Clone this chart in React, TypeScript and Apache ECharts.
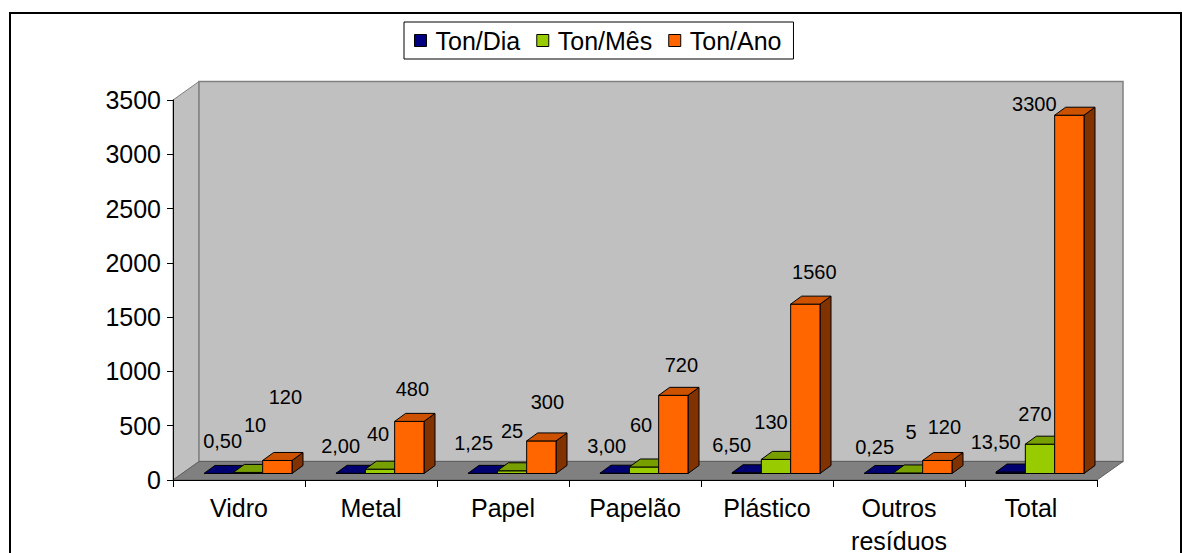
import React, { useEffect, useRef } from "react";
import * as echarts from "echarts";

// ---- data ----
const categories = ["Vidro", "Metal", "Papel", "Papelão", "Plástico", "Outros\nresíduos", "Total"];
const seriesNames = ["Ton/Dia", "Ton/Mês", "Ton/Ano"];
const tonDia = [0.5, 2, 1.25, 3, 6.5, 0.25, 13.5];
const tonMes = [10, 40, 25, 60, 130, 5, 270];
const tonAno = [120, 480, 300, 720, 1560, 120, 3300];
const yMin = 0;
const yMax = 3500;
const yInterval = 500;

// ---- label nudges (px, relative to the front-top centre of each bar) ----
const labelOffX = [
  [4, -10, -9, -8, -15, -4, -15],
  [7, -2, 0, -3, -5, 3, -5],
  [8, 3, 6, 8, 9, 7, -35],
];
const labelOffY = [
  [-32, -27, -30, -27, -28, -26, -30],
  [-47, -35, -40, -42, -37, -41, -30],
  [-63, -32, -39, -30, -32, -33, -11],
];

// ---- styles ----
const FONT = "'Liberation Sans', Arial, sans-serif";
const faceColors = [
  { front: "#000080", top: "#000070", side: "#00004D" },
  { front: "#99CC00", top: "#779F00", side: "#4C6600" },
  { front: "#FF6600", top: "#CC5200", side: "#803300" },
];
const WALL_DX = 26;
const WALL_DY = -18.5;
const BAR_FDX = 9;
const BAR_FDY = -6.5;
const BAR_DX = 11;
const BAR_DY = -8;

function fmt(si: number, v: number) {
  return si === 0 ? v.toFixed(2).replace(".", ",") : String(v);
}

export default function App() {
  const ref = useRef<HTMLDivElement>(null);
  useEffect(() => {
    if (!ref.current) return;
    const chart = echarts.init(ref.current, null, { renderer: "svg" });
    const allData = [tonDia, tonMes, tonAno];

    const barSeries = allData.map((arr, si) => ({
      type: "custom",
      name: seriesNames[si],
      z: 3,
      itemStyle: { color: faceColors[si].front, borderColor: "#000", borderWidth: 1 },
      data: arr.map((v, i) => [i, v]),
      renderItem: (params: any, api: any) => {
        const i = api.value(0);
        const v = api.value(1);
        const base = api.coord([i, 0]);
        const top = api.coord([i, v]);
        const band = api.size([1, 0])[0];
        const bw = band / 4.5;
        const x0 = base[0] - 1.5 * bw + si * bw + BAR_FDX;
        const yb = base[1] + BAR_FDY;
        const yt = top[1] + BAR_FDY;
        const c = faceColors[si];
        const st = (fill: string) => ({ fill, stroke: "#000", lineWidth: 1 });
        return {
          type: "group",
          children: [
            {
              type: "polygon",
              shape: { points: [[x0 + bw, yt], [x0 + bw + BAR_DX, yt + BAR_DY], [x0 + bw + BAR_DX, yb + BAR_DY], [x0 + bw, yb]] },
              style: st(c.side),
            },
            {
              type: "rect",
              shape: { x: x0, y: yt, width: bw, height: Math.max(yb - yt, 0) },
              style: st(c.front),
            },
            {
              type: "polygon",
              shape: { points: [[x0, yt], [x0 + bw, yt], [x0 + bw + BAR_DX, yt + BAR_DY], [x0 + BAR_DX, yt + BAR_DY]] },
              style: st(c.top),
            },
            {
              type: "text",
              style: {
                text: fmt(si, v),
                x: x0 + bw / 2 + labelOffX[si][i],
                y: yt + labelOffY[si][i],
                fill: "#000",
                font: `20px ${FONT}`,
                align: "center",
                verticalAlign: "middle",
              },
            },
          ],
        };
      },
    }));

    const wallSeries = {
      type: "custom",
      name: "walls",
      z: 1,
      silent: true,
      data: [[0, 0]],
      renderItem: (params: any, api: any) => {
        const cs = params.coordSys;
        const L = cs.x, T = cs.y, R = cs.x + cs.width, B = cs.y + cs.height;
        return {
          type: "group",
          children: [
            {
              type: "polygon",
              shape: { points: [[L, T], [L + WALL_DX, T + WALL_DY], [L + WALL_DX, B + WALL_DY], [L, B]] },
              style: { fill: "#C0C0C0", stroke: "#808080", lineWidth: 1 },
            },
            {
              type: "rect",
              shape: { x: L + WALL_DX, y: T + WALL_DY, width: cs.width, height: cs.height },
              style: { fill: "#C0C0C0", stroke: "#808080", lineWidth: 1.5 },
            },
            {
              type: "polygon",
              shape: { points: [[L, B], [L + WALL_DX, B + WALL_DY], [R + WALL_DX, B + WALL_DY], [R, B]] },
              style: { fill: "#808080", stroke: "#606060", lineWidth: 1 },
            },
          ],
        };
      },
    };

    chart.setOption({
      animation: false,
      backgroundColor: "#fff",
      textStyle: { fontFamily: FONT },
      graphic: [
        {
          type: "rect",
          silent: true,
          shape: { x: 10, y: 13, width: 1171, height: 600 },
          style: { fill: "none", stroke: "#000", lineWidth: 2 },
        },
      ],
      legend: {
        data: seriesNames,
        left: 404,
        top: 22,
        padding: [6, 12, 6, 10],
        itemGap: 16,
        itemWidth: 12,
        itemHeight: 12,
        icon: "rect",
        borderColor: "#000",
        borderWidth: 1,
        backgroundColor: "#fff",
        itemStyle: { borderColor: "#000", borderWidth: 1 },
        textStyle: { fontSize: 25, color: "#000", fontFamily: FONT, padding: [0, 0, 0, 4] },
      },
      grid: { left: 173, top: 100, width: 924, height: 380, containLabel: false, outerBoundsMode: "none" },
      xAxis: {
        type: "category",
        data: categories,
        z: 5,
        axisLine: { lineStyle: { color: "#000", width: 1 } },
        axisTick: { show: true, length: 7, lineStyle: { color: "#000" } },
        axisLabel: { fontSize: 25, color: "#000", fontFamily: FONT, margin: 11, lineHeight: 33, interval: 0 },
        splitLine: { show: false },
      },
      yAxis: {
        type: "value",
        min: yMin,
        max: yMax,
        interval: yInterval,
        z: 5,
        axisLine: { show: true, lineStyle: { color: "#000", width: 1 } },
        axisTick: { show: true, length: 6, lineStyle: { color: "#000" } },
        axisLabel: { fontSize: 25, color: "#000", fontFamily: FONT, margin: 12, formatter: (v: number) => String(v) },
        splitLine: { show: false },
      },
      series: [wallSeries, ...barSeries],
    });
    return () => chart.dispose();
  }, []);
  return (
    <div
      ref={ref}
      style={{ position: "absolute", left: 0, top: 0, width: 1182, height: 553 }}
    />
  );
}
